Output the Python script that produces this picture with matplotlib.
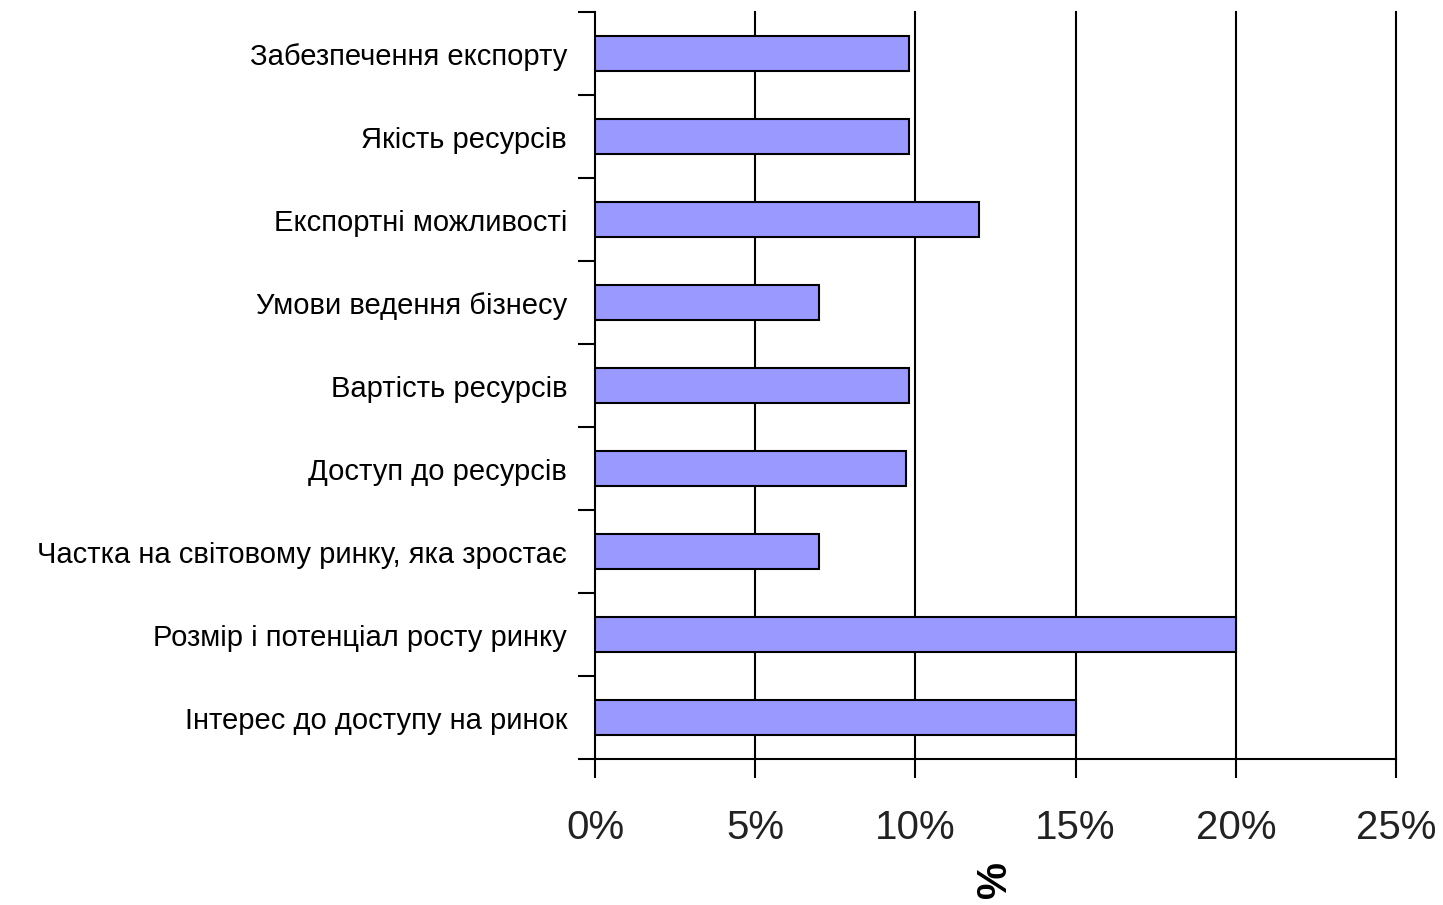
import matplotlib.pyplot as plt
import numpy as np

# Data (top to bottom)
categories = [
    "Забезпечення експорту",
    "Якість ресурсів",
    "Експортні можливості",
    "Умови ведення бізнесу",
    "Вартість ресурсів",
    "Доступ до ресурсів",
    "Частка на світовому ринку, яка зростає",
    "Розмір і потенціал росту ринку",
    "Інтерес до доступу на ринок",
]
values = [9.8, 9.8, 12.0, 7.0, 9.8, 9.7, 7.0, 20.0, 15.0]
xticks = [0, 5, 10, 15, 20, 25]
xtick_labels = ["0%", "5%", "10%", "15%", "20%", "25%"]

plt.rcParams['font.family'] = ['Liberation Sans', 'DejaVu Sans']

fig = plt.figure(figsize=(14.43, 9.05), dpi=100)
ax = fig.add_axes([0.4123, 0.1613, 0.9674 - 0.4123, 0.9867 - 0.1613])

y = np.arange(len(categories))
ax.barh(y, values, height=0.42, color='#9999FF', edgecolor='black',
        linewidth=1.5, zorder=3)

ax.set_xlim(0, 25)
ax.set_ylim(len(categories) - 0.5, -0.5)

# vertical grid lines
for xv in xticks[1:]:
    ax.axvline(xv, color='black', linewidth=1.5, zorder=1, clip_on=False)

ax.spines['top'].set_visible(False)
ax.spines['right'].set_visible(False)
ax.spines['left'].set_linewidth(1.5)
ax.spines['bottom'].set_linewidth(1.5)

ax.set_yticks(y)
ax.set_yticklabels(categories, fontsize=21)
ax.set_yticks(np.arange(-0.5, len(categories) + 0.5, 1), minor=True)
ax.tick_params(axis='y', which='major', length=0, pad=20)
ax.tick_params(axis='y', which='minor', length=12, width=1.5, direction='out')

ax.set_xticks(xticks)
ax.set_xticklabels(xtick_labels, fontsize=29, color='#222222')
ax.tick_params(axis='x', which='major', length=14, width=1.5, direction='out', pad=22)

ax.set_xlabel("%", fontsize=30, fontweight='bold', rotation=90, labelpad=10)

fig.savefig("out.png", dpi=100)
